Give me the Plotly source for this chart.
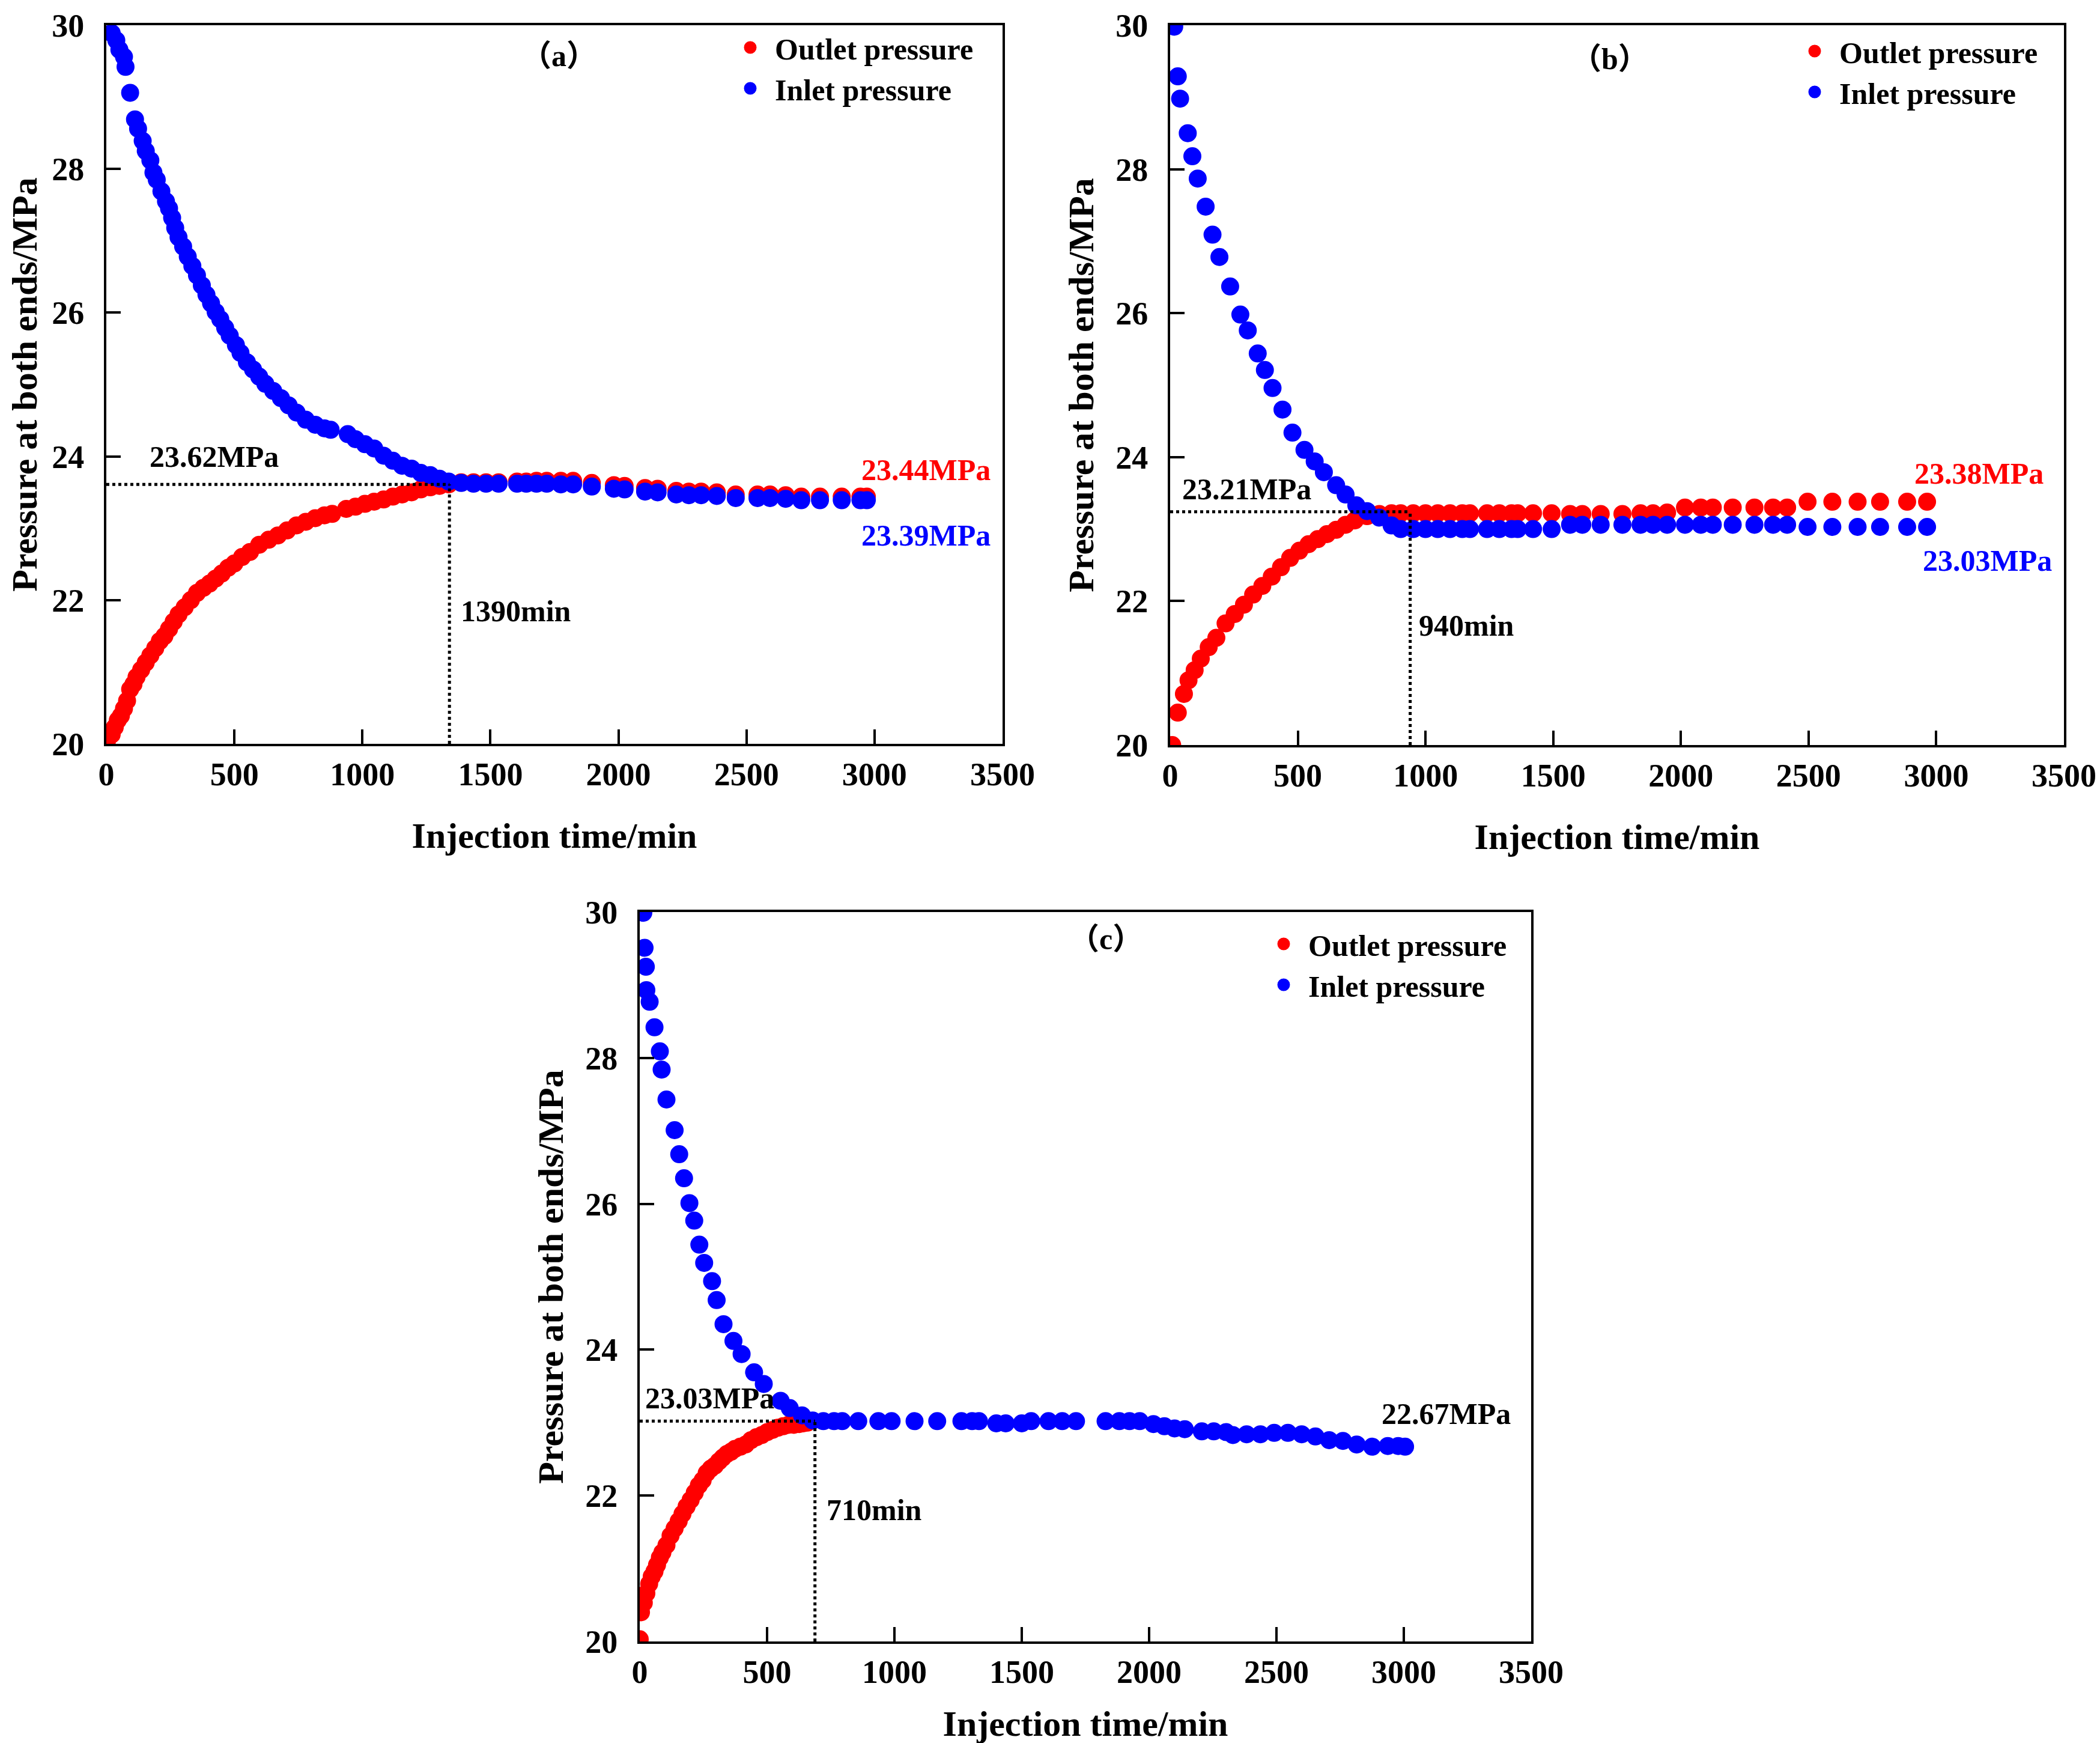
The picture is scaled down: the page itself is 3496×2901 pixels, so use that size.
import plotly.graph_objects as go

# ---------------- data ----------------
x_ticks = [0, 500, 1000, 1500, 2000, 2500, 3000, 3500]
y_ticks = [20, 22, 24, 26, 28, 30]

# (a)
a_out_t = [2, 21, 33, 45, 57, 69, 81, 93, 106, 118, 136, 154, 172, 191, 209, 227, 245, 263,
           282, 306, 330, 354, 379, 403, 427, 451, 476, 500, 530, 561, 597, 634, 670, 706,
           743, 779, 816, 852, 882, 937, 973, 1010, 1046, 1083, 1119, 1155, 1192, 1228, 1265,
           1301, 1337, 1386, 1434, 1483, 1532, 1604, 1640, 1680, 1720, 1775, 1823, 1896, 1982,
           2024, 2104, 2153, 2226, 2275, 2323, 2384, 2458, 2543, 2592, 2653, 2714, 2787, 2872,
           2945, 2970]
a_out_p = [20.03, 20.13, 20.23, 20.33, 20.39, 20.49, 20.60, 20.76, 20.83, 20.93, 21.03, 21.13,
           21.23, 21.33, 21.43, 21.50, 21.60, 21.70, 21.80, 21.90, 22.00, 22.10, 22.17, 22.23,
           22.30, 22.37, 22.45, 22.51, 22.60, 22.67, 22.77, 22.84, 22.90, 22.97, 23.04, 23.09,
           23.14, 23.18, 23.20, 23.27, 23.30, 23.34, 23.37, 23.40, 23.44, 23.47, 23.50, 23.54,
           23.57, 23.59, 23.61, 23.64, 23.64, 23.64, 23.64, 23.65, 23.65, 23.66, 23.66, 23.66,
           23.66, 23.63, 23.60, 23.59, 23.56, 23.55, 23.52, 23.51, 23.51, 23.50, 23.47, 23.47,
           23.47, 23.46, 23.44, 23.44, 23.44, 23.44, 23.44]
a_in_t = [21, 39, 51, 69, 75, 93, 112, 124, 142, 154, 172, 184, 197, 215, 233, 245, 257, 269,
          282, 300, 318, 336, 354, 373, 391, 409, 427, 445, 464, 482, 506, 524, 549, 573, 597,
          621, 652, 682, 712, 743, 779, 816, 852, 876, 943, 973, 1010, 1046, 1083, 1119, 1155,
          1192, 1228, 1265, 1301, 1337, 1386, 1434, 1483, 1532, 1604, 1640, 1680, 1720, 1775,
          1823, 1896, 1982, 2024, 2104, 2153, 2226, 2275, 2323, 2384, 2458, 2543, 2592, 2653,
          2714, 2787, 2872, 2945, 2970]
a_in_p = [29.89, 29.79, 29.66, 29.56, 29.42, 29.06, 28.69, 28.56, 28.39, 28.25, 28.12, 27.95,
          27.85, 27.69, 27.55, 27.45, 27.32, 27.18, 27.05, 26.92, 26.78, 26.65, 26.52, 26.38,
          26.25, 26.13, 26.01, 25.91, 25.79, 25.68, 25.55, 25.44, 25.31, 25.21, 25.11, 25.01,
          24.91, 24.81, 24.71, 24.61, 24.51, 24.44, 24.39, 24.37, 24.31, 24.24, 24.17, 24.11,
          24.01, 23.94, 23.87, 23.83, 23.77, 23.74, 23.69, 23.65, 23.63, 23.62, 23.62, 23.62,
          23.62, 23.62, 23.62, 23.62, 23.61, 23.61, 23.58, 23.55, 23.54, 23.51, 23.50, 23.47,
          23.46, 23.46, 23.45, 23.42, 23.42, 23.42, 23.41, 23.39, 23.39, 23.39, 23.39, 23.39]

# (b)
b_out_t = [8, 30, 54, 72, 96, 120, 151, 181, 217, 253, 289, 325, 361, 398, 434, 470, 506, 542,
           578, 614, 650, 687, 723, 771, 819, 867, 903, 952, 1000, 1048, 1096, 1144, 1174, 1241,
           1289, 1337, 1361, 1421, 1494, 1566, 1614, 1686, 1771, 1842, 1891, 1946, 2016, 2078,
           2125, 2203, 2288, 2361, 2416, 2496, 2593, 2692, 2780, 2886, 2964]
b_out_p = [20.00, 20.45, 20.71, 20.90, 21.04, 21.20, 21.36, 21.49, 21.69, 21.82, 21.95, 22.09,
           22.21, 22.34, 22.47, 22.60, 22.70, 22.79, 22.86, 22.93, 22.99, 23.06, 23.12, 23.18,
           23.21, 23.22, 23.22, 23.22, 23.22, 23.22, 23.22, 23.22, 23.22, 23.22, 23.22, 23.22,
           23.22, 23.22, 23.22, 23.21, 23.21, 23.21, 23.21, 23.22, 23.22, 23.23, 23.30, 23.30,
           23.30, 23.30, 23.30, 23.30, 23.30, 23.38, 23.38, 23.38, 23.38, 23.38, 23.38]
b_in_t = [16, 30, 39, 69, 87, 108, 139, 166, 193, 235, 275, 304, 343, 371, 401, 440, 479, 526,
          566, 602, 650, 687, 729, 771, 819, 867, 903, 952, 1000, 1048, 1096, 1144, 1174, 1241,
          1289, 1337, 1361, 1421, 1494, 1566, 1614, 1686, 1771, 1842, 1891, 1946, 2016, 2078,
          2125, 2203, 2288, 2361, 2416, 2496, 2593, 2692, 2780, 2886, 2964]
b_in_p = [29.98, 29.29, 28.98, 28.50, 28.18, 27.87, 27.48, 27.09, 26.78, 26.37, 25.98, 25.76,
          25.44, 25.21, 24.96, 24.66, 24.34, 24.10, 23.94, 23.79, 23.61, 23.48, 23.33, 23.25,
          23.16, 23.05, 23.00, 23.00, 23.00, 23.00, 23.00, 23.00, 23.00, 23.00, 23.00, 23.00,
          23.00, 23.00, 23.00, 23.06, 23.06, 23.06, 23.06, 23.06, 23.06, 23.06, 23.06, 23.06,
          23.06, 23.06, 23.06, 23.06, 23.06, 23.03, 23.03, 23.03, 23.03, 23.03, 23.03]

# (c)
c_out_t = [0, 5, 16, 26, 37, 47, 58, 68, 79, 89, 105, 121, 137, 153, 168, 184, 200, 216, 232,
           247, 263, 279, 295, 311, 326, 342, 358, 374, 395, 416, 437, 458, 479, 500, 521, 542,
           563, 584, 605, 626, 642, 658]
c_out_p = [20.03, 20.40, 20.53, 20.66, 20.79, 20.89, 20.96, 21.05, 21.15, 21.22, 21.32, 21.45,
           21.55, 21.65, 21.75, 21.85, 21.94, 22.04, 22.14, 22.21, 22.31, 22.37, 22.41, 22.47,
           22.52, 22.57, 22.60, 22.64, 22.67, 22.70, 22.76, 22.80, 22.83, 22.87, 22.90, 22.93,
           22.95, 22.97, 22.97, 22.98, 22.99, 23.00]
c_in_t = [14, 19, 24, 26, 39, 58, 79, 86, 105, 137, 155, 174, 195, 214, 234, 253, 284, 302,
          329, 368, 400, 449, 487, 553, 589, 637, 679, 721, 763, 795, 858, 937, 989, 1079, 1168,
          1263, 1305, 1332, 1400, 1437, 1500, 1537, 1605, 1659, 1713, 1829, 1883, 1923, 1963,
          2017, 2060, 2100, 2140, 2207, 2254, 2302, 2329, 2383, 2437, 2491, 2545, 2599, 2653,
          2707, 2761, 2815, 2876, 2937, 2978, 3005]
c_in_p = [29.99, 29.51, 29.25, 28.93, 28.77, 28.42, 28.09, 27.84, 27.43, 27.01, 26.68, 26.35,
          26.01, 25.77, 25.44, 25.19, 24.94, 24.68, 24.35, 24.12, 23.94, 23.69, 23.53, 23.30,
          23.20, 23.10, 23.03, 23.02, 23.02, 23.02, 23.02, 23.02, 23.02, 23.02, 23.02, 23.02,
          23.02, 23.02, 22.99, 22.99, 22.99, 23.02, 23.02, 23.02, 23.02, 23.02, 23.02, 23.02,
          23.02, 22.98, 22.95, 22.92, 22.91, 22.88, 22.88, 22.87, 22.83, 22.84, 22.84, 22.86,
          22.86, 22.84, 22.81, 22.76, 22.75, 22.70, 22.67, 22.68, 22.68, 22.67]

# crossing point guides: time (min), pressure (MPa)
cross_t = [1340, 940, 688]
cross_p = [23.61, 23.24, 23.02]

# ---------------- figure ----------------
W, H = 3496, 2901
FONT = "Liberation Serif, Noto Sans CJK SC"
RED, BLUE = "#ff0000", "#0000ff"


def fx(px):
    return px / W


def fy(px):
    return 1 - px / H


panels = [
    dict(out=(a_out_t, a_out_p), inl=(a_in_t, a_in_p),
         box=(169, 1661, 34, 1230), legend_at=(1200, 32), title_gap=52),
    dict(out=(b_out_t, b_out_p), inl=(b_in_t, b_in_p),
         box=(1940, 3428, 34, 1232), legend_at=(2972, 38), title_gap=52),
    dict(out=(c_out_t, c_out_p), inl=(c_in_t, c_in_p),
         box=(1057, 2541, 1510, 2724), legend_at=(2088, 1524), title_gap=36),
]

fig = go.Figure()
layout = dict(width=W, height=H, margin=dict(l=0, r=0, t=0, b=0),
              paper_bgcolor="white", plot_bgcolor="white", showlegend=True,
              annotations=[], shapes=[])

for i, p in enumerate(panels):
    n = "" if i == 0 else str(i + 1)
    leg = "legend" + n
    xa, ya = "x" + n, "y" + n
    fig.add_trace(go.Scatter(x=p["out"][0], y=p["out"][1], mode="markers", name="Outlet pressure",
                             marker=dict(color=RED, size=25, line=dict(color=RED, width=5)),
                             xaxis=xa, yaxis=ya, legend=leg))
    fig.add_trace(go.Scatter(x=p["inl"][0], y=p["inl"][1], mode="markers", name="Inlet pressure",
                             marker=dict(color=BLUE, size=25, line=dict(color=BLUE, width=5)),
                             xaxis=xa, yaxis=ya, legend=leg))

    x0, x1, y0, y1 = p["box"]
    axis_style = dict(showline=True, linecolor="black", linewidth=4, mirror=True,
                      ticks="inside", ticklen=24, tickwidth=4, tickcolor="black",
                      showgrid=False, zeroline=False, automargin=False,
                      tickfont=dict(family=FONT, size=54, color="black", weight="bold"))
    layout["xaxis" + n] = dict(axis_style, domain=[fx(x0), fx(x1)], anchor=ya,
                               range=[0, 3500], tickvals=x_ticks, ticklabelstandoff=0,
                               title=dict(text="Injection time/min", standoff=p["title_gap"],
                                          font=dict(family=FONT, size=60, color="black",
                                                    weight="bold")))
    layout["yaxis" + n] = dict(axis_style, domain=[fy(y1), fy(y0)], anchor=xa,
                               range=[20, 30], tickvals=y_ticks, ticklabelstandoff=22,
                               title=dict(text="Pressure at both ends/MPa", standoff=18,
                                          font=dict(family=FONT, size=60, color="black",
                                                    weight="bold")))
    lx, ly = p["legend_at"]
    layout[leg] = dict(x=fx(lx), y=fy(ly), xanchor="left", yanchor="top",
                       bgcolor="rgba(0,0,0,0)", itemwidth=72,
                       font=dict(family=FONT, size=50, color="black", weight="bold"))

    # dotted guide lines at the crossing point
    t, pr = cross_t[i], cross_p[i]
    line = dict(color="black", width=5, dash="dot")
    layout["shapes"].append(dict(type="line", xref=xa, yref=ya, x0=0, x1=t, y0=pr, y1=pr, line=line))
    layout["shapes"].append(dict(type="line", xref=xa, yref=ya, x0=t, x1=t, y0=20, y1=pr, line=line))


# text labels
def label(xa, ya, x, y, text, color="black", size=50):
    layout["annotations"].append(dict(xref=xa, yref=ya, x=x, y=y, text=text, showarrow=False,
                                      font=dict(family=FONT, size=size, color=color, weight="bold")))


label("x", "y", 1768, 29.57, "（a）")
label("x", "y", 420, 24.0, "23.62MPa")
label("x", "y", 1600, 21.85, "1390min")
label("x", "y", 3200, 23.81, "23.44MPa", RED)
label("x", "y", 3200, 22.90, "23.39MPa", BLUE)

label("x2", "y2", 1721, 29.53, "（b）")
label("x2", "y2", 300, 23.56, "23.21MPa")
label("x2", "y2", 1160, 21.66, "940min")
label("x2", "y2", 3166, 23.77, "23.38MPa", RED)
label("x2", "y2", 3200, 22.56, "23.03MPa", BLUE)

label("x3", "y3", 1829, 29.63, "（c）")
label("x3", "y3", 275, 23.34, "23.03MPa")
label("x3", "y3", 920, 21.80, "710min")
label("x3", "y3", 3166, 23.12, "22.67MPa")

fig.update_layout(**layout)
fig.write_html("out.html")
